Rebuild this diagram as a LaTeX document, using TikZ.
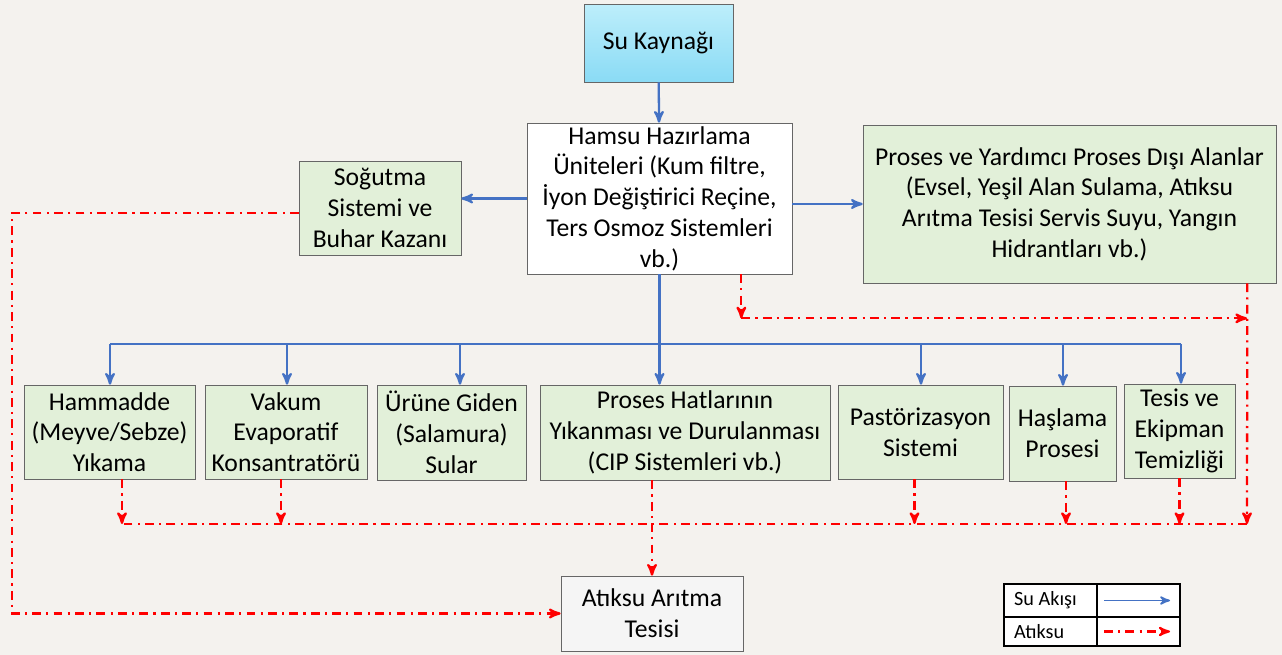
\documentclass[tikz,border=0pt]{standalone}
\usepackage{fontspec}
\setmainfont{Carlito}
\usepackage{tikz}
\usetikzlibrary{arrows}
\definecolor{bgcol}{HTML}{F4F2EE}
\definecolor{boxgreen}{HTML}{E2F0D9}
\definecolor{flowblue}{HTML}{4472C4}
\definecolor{wastered}{HTML}{FF0000}
\definecolor{skytop}{HTML}{BDEEFB}
\definecolor{skybot}{HTML}{8ADBF5}
\tikzset{
 box/.style={draw=black!60, fill=boxgreen, align=center, inner sep=0, font=\fontsize{14.6}{17.5}\selectfont},
 flow/.style={flowblue, line width=1.3pt, ->, >=stealth'},
 waste/.style={wastered, line width=1.3pt, dash pattern=on 5pt off 3pt on 1.2pt off 3pt, ->, >=stealth'},
}

\begin{document}
\begin{tikzpicture}[x=0.02cm, y=-0.02cm]
\fill[bgcol] (0,0) rectangle (1282,655);
\useasboundingbox (0,0) rectangle (1282,655);

% top part
\node[box, top color=skytop, bottom color=skybot, minimum width=2.98cm, minimum height=1.56cm] (su) at (658.5,43) {Su Kaynağı};
\node[box, fill=white, minimum width=5.3cm, minimum height=3.02cm] (hamsu) at (659.5,198.5) {Hamsu Hazırlama\\Üniteleri (Kum filtre,\\İyon Değiştirici Reçine,\\Ters Osmoz Sistemleri\\vb.)};
\node[box, minimum width=3.24cm, minimum height=1.88cm] (sog) at (380,208) {Soğutma\\Sistemi ve\\Buhar Kazanı};
\node[box, minimum width=8.26cm, minimum height=3.16cm] (proses) at (1069.5,204) {Proses ve Yardımcı Proses Dışı Alanlar\\(Evsel, Yeşil Alan Sulama, Atıksu\\Arıtma Tesisi Servis Suyu, Yangın\\Hidrantları vb.)};

% process row
\node[box, minimum width=3.42cm, minimum height=1.88cm] (b1) at (109.5,432) {Hammadde\\(Meyve/Sebze)\\Yıkama};
\node[box, minimum width=3.24cm, minimum height=1.88cm] (b2) at (286,432) {Vakum\\Evaporatif\\Konsantratörü};
\node[box, minimum width=2.98cm, minimum height=1.9cm] (b3) at (451.5,432.5) {Ürüne Giden\\(Salamura)\\Sular};
\node[box, minimum width=5.8cm, minimum height=1.9cm] (b4) at (685,432.5) {Proses Hatlarının\\Yıkanması ve Durulanması\\(CIP Sistemleri vb.)};
\node[box, minimum width=3.3cm, minimum height=1.88cm] (b5) at (920.5,432) {Pastörizasyon\\Sistemi};
\node[box, minimum width=2.14cm, minimum height=1.9cm] (b6) at (1062.5,433.5) {Haşlama\\Prosesi};
\node[box, minimum width=2.22cm, minimum height=1.88cm] (b7) at (1179.5,431) {Tesis ve\\Ekipman\\Temizliği};

\node[box, fill=black!4, minimum width=3.64cm, minimum height=1.5cm] (atik) at (652,613.5) {Atıksu Arıtma\\Tesisi};

% water flow
\coordinate (bus) at (0,344);
\draw[flow] (su) -- (hamsu);
\draw[flow] (hamsu.west) -- (hamsu.west -| sog.east);
\draw[flow] (proses.west -| hamsu.east) -- (proses.west);
\draw[flow] (hamsu.south) -- (hamsu.south |- b4.north);
\draw[flowblue, line width=1.3pt] ([xshift=0.01cm]b1.north |- bus) -- ([xshift=0.03cm]b7.north |- bus);
\foreach \b/\s in {b1/0.01, b2/0.02, b3/0.17, b5/0.01, b6/0.01, b7/0.03}
 \draw[flow] ([xshift=\s cm]\b.north |- bus) -- ([xshift=\s cm]\b.north);

% waste water
\coordinate (wx) at (12,0);
\coordinate (wr) at (1247,524);
\coordinate (wl) at (122,524);
\draw[waste] ([yshift=-0.1cm]sog.west) -- ([yshift=-0.1cm]sog.west -| wx) -- (wx |- atik.west) -- (atik.west);
\draw[waste] ([xshift=-1.02cm]hamsu.south east) -- ++(0,44) coordinate (wa);
\draw[waste] (wa) -- (wa -| wr);
\draw[waste] ([xshift=-0.58cm]proses.south east) -- (wr);
\draw[waste, -] (wr) -- (wl);
\foreach \b/\s in {b1/0.25, b2/-0.1, b5/-0.12, b6/0.07, b7/0}
 \draw[waste] ([xshift=\s cm]\b.south) -- ([xshift=\s cm]\b.south |- wl);
\draw[waste] (atik.north |- b4.south) -- (atik.north);

% legend
\fill[white] (1004,584) rectangle (1180,646);
\draw[black, line width=0.8pt] (1004,584) rectangle (1180,646) (1097,584) -- (1097,646) (1004,617) -- (1180,617);
\node[anchor=west, font=\fontsize{11.5}{13}\selectfont] (lgflow) at (1008,600.5) {Su Akışı};
\node[anchor=west, font=\fontsize{11.5}{13}\selectfont] (lgwaste) at (1008,631.5) {Atıksu};
\draw[flow, line width=1pt] (1104,600.5) -- (1170,600.5);
\draw[waste, line width=1.2pt] (1104,631.5) -- (1170,631.5);
\end{tikzpicture}
\end{document}
